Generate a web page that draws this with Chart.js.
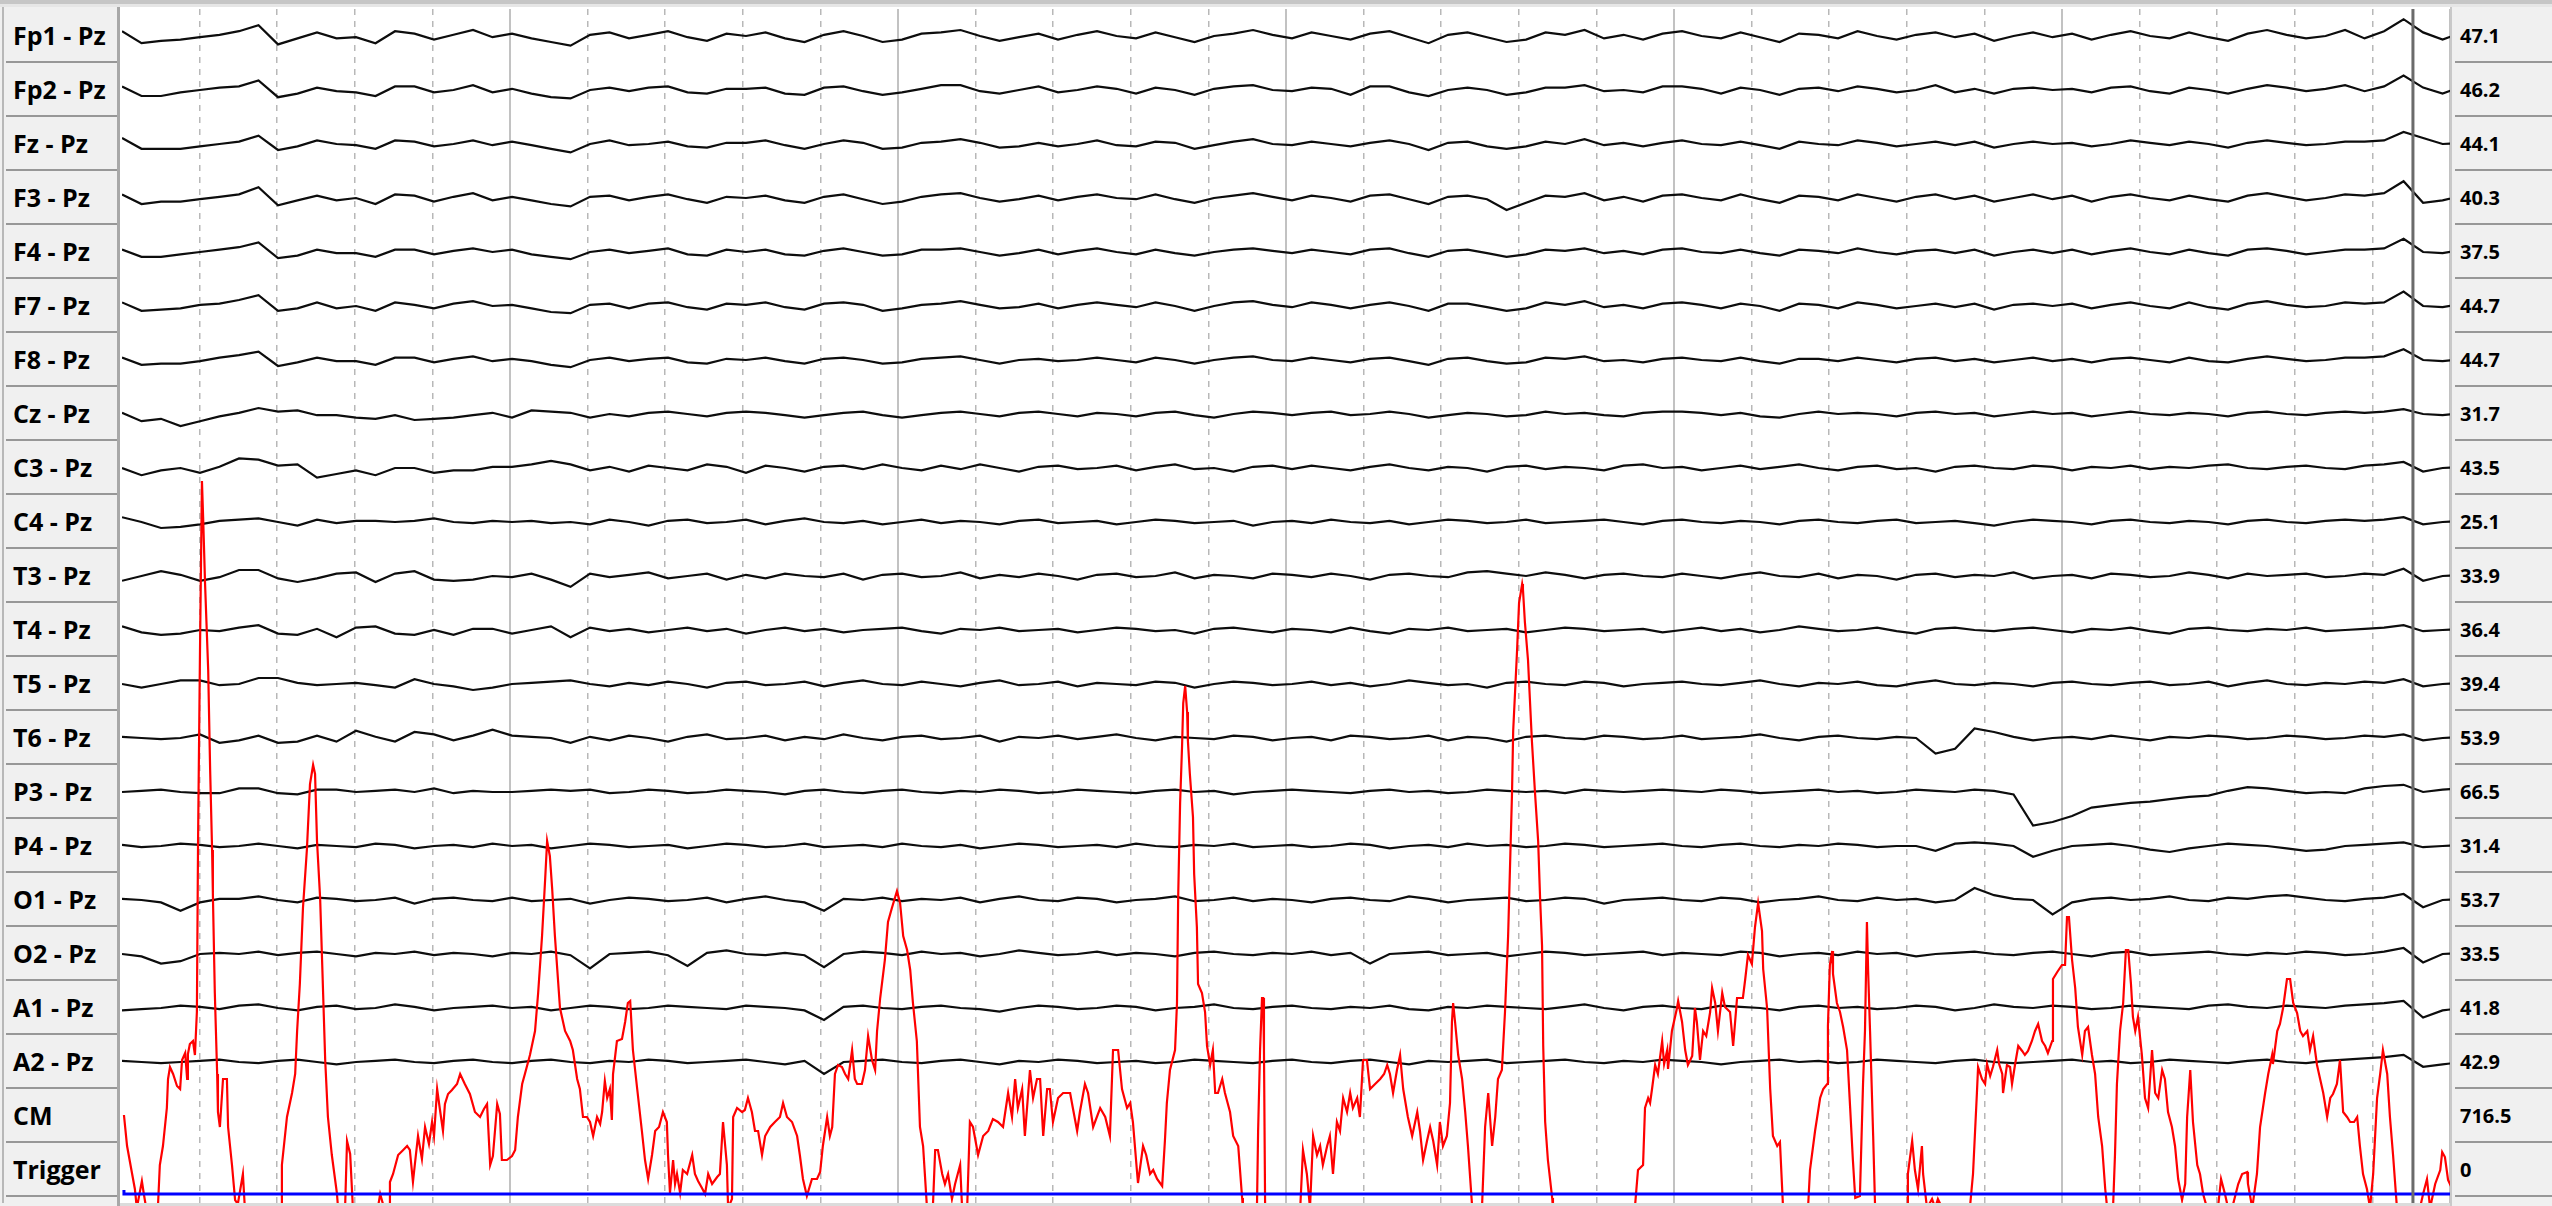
<!DOCTYPE html>
<html>
<head>
<meta charset="utf-8">
<title>EEG review</title>
<script src="https://cdn.jsdelivr.net/npm/chart.js@4.4.0/dist/chart.umd.min.js"></script>
<style>
  html, body { margin: 0; padding: 0; width: 2552px; height: 1206px; overflow: hidden; background: #f0f0f0; font-family: "Open Sans", "Noto Sans", sans-serif; }
  #topbar { position: absolute; left: 0; top: 0; width: 2552px; height: 4px; background: #c6c6c6; }
  #topline { position: absolute; left: 0; top: 4px; width: 2552px; height: 3px; background: #e6e6e6; }
  #leftedge { position: absolute; left: 2px; top: 7px; width: 2px; height: 1196px; background: #b8b8b8; }
  #sepL { position: absolute; left: 117px; top: 7px; width: 3px; height: 1199px; background: #a8a8a8; }
  #plotbg { position: absolute; left: 120px; top: 7px; width: 2330px; height: 1196px; background: #fff; }
  #sepR { position: absolute; left: 2450px; top: 7px; width: 2px; height: 1199px; background: #c9c9c9; }
  #bottom { position: absolute; left: 120px; top: 1203px; width: 2330px; height: 3px; background: #dcdcdc; }
  #wrap { position: absolute; left: 122px; top: 9px; width: 2328px; height: 1194px; }
  .lab, .val { position: absolute; height: 52px; border-bottom: 2px solid #979797; background: #f0f0f0;
               font-weight: 700; color: #000; display: flex; align-items: center; white-space: nowrap; box-sizing: content-box; }
  .lab { left: 6px; width: 104px; font-size: 25px; padding-left: 7px; }
  .val { left: 2455px; width: 92px; font-size: 20px; padding-left: 5px; }
</style>
</head>
<body>
<div id="topbar"></div><div id="topline"></div>
<div id="leftedge"></div>
<div id="plotbg"></div>
<div id="sepL"></div>
<div id="sepR"></div>
<div id="bottom"></div>
<div id="wrap"><canvas id="eeg"></canvas></div>
<script>
// channel names (left column) and per-channel scale readout (right column)
const channelNames = ["Fp1 - Pz", "Fp2 - Pz", "Fz - Pz", "F3 - Pz", "F4 - Pz", "F7 - Pz", "F8 - Pz",
  "Cz - Pz", "C3 - Pz", "C4 - Pz", "T3 - Pz", "T4 - Pz", "T5 - Pz", "T6 - Pz", "P3 - Pz",
  "P4 - Pz", "O1 - Pz", "O2 - Pz", "A1 - Pz", "A2 - Pz", "CM", "Trigger"];
const scaleLabels = ["47.1", "46.2", "44.1", "40.3", "37.5", "44.7", "44.7", "31.7", "43.5", "25.1",
  "33.9", "36.4", "39.4", "53.9", "66.5", "31.4", "53.7", "33.5", "41.8", "42.9", "716.5", "0"];

// EEG samples, one every 50 ms (deflection, positive = up)
const fp1 = [4,-6,-4,-3,-1,1,4,9,-7,-2,3,-2,-1,-6,4,2,-3,1,5,-1,
  2,-2,-5,-8,1,3,-2,1,4,-1,-4,2,0,3,-2,-5,1,4,0,-5,
  -3,2,3,5,0,-4,-1,2,-3,1,4,0,-2,3,-1,-5,0,2,5,1,
  -2,3,0,-3,2,4,-1,-6,1,3,-1,-5,-3,3,1,5,-2,1,-3,2,
  4,0,-2,3,-1,-5,2,1,-2,4,0,-3,1,3,-1,2,-4,0,3,-1,
  2,-3,1,4,0,-2,3,-1,-4,2,5,1,-2,0,5,-2,4,14,3,-3, 3];
const fp2 = [3,-5,-5,-2,0,2,3,8,-6,-3,2,-1,-2,-5,3,3,-2,0,4,-2,
  1,-3,-6,-7,0,2,-1,2,3,-2,-3,1,1,2,-3,-4,2,3,-1,-4,
  -2,1,4,4,-1,-3,0,3,-2,0,3,1,-3,2,0,-4,1,3,4,0,
  -1,2,1,-4,3,3,-2,-5,0,2,0,-4,-2,2,2,4,-1,0,-2,3,
  3,1,-3,2,0,-4,1,2,-1,3,1,-2,0,4,-2,1,-3,1,2,0,
  1,-2,2,3,-1,-3,2,0,-3,1,4,2,-1,1,4,-1,3,12,2,-3, 3];
const fz = [5,-4,-4,-4,-2,0,2,7,-5,-2,3,0,-1,-4,3,2,-2,0,3,-1,
  2,-1,-4,-7,0,3,-1,0,2,-2,-3,1,1,3,-1,-4,0,3,1,-4,
  -3,1,2,4,1,-3,-2,1,-2,0,3,-1,-2,2,1,-4,-1,2,4,0,
  -1,2,0,-2,1,3,0,-5,1,2,-2,-4,-2,2,0,4,-1,1,-2,1,
  3,0,-1,2,-1,-4,2,0,-1,3,1,-2,0,2,-1,2,-3,0,2,0,
  1,-2,0,3,1,-1,2,0,-3,1,3,1,-1,0,2,2,3,10,5,0, 1];
const f3 = [3,-5,-3,-3,-1,1,3,9,-6,-2,2,-2,0,-5,3,2,-3,1,4,-2,
  1,-2,-5,-7,1,2,-2,1,3,-1,-4,1,0,2,-2,-4,1,3,-1,-5,
  -3,1,3,4,0,-3,-1,2,-2,1,3,0,-1,3,-1,-4,0,2,4,1,
  -2,2,0,-3,2,3,-1,-5,1,2,-1,-10,-4,2,1,4,-2,1,-3,2,
  3,0,-2,3,-1,-4,2,1,-2,3,0,-3,1,3,-1,2,-3,0,3,-1,
  2,-3,1,3,0,-2,2,-1,-3,2,4,1,-2,0,3,2,4,14,-4,-2, 2];
const f4 = [2,-4,-4,-2,0,2,4,8,-5,-3,2,-1,-1,-4,2,2,-2,1,3,0,
  2,-2,-4,-6,0,2,-1,1,3,-2,-3,2,0,2,-2,-3,1,3,0,-3,
  -2,2,2,3,0,-3,-1,2,-2,1,3,0,-2,2,-1,-3,0,2,3,1,
  -1,2,0,-2,2,3,-1,-4,1,2,-1,-4,-2,2,1,3,-1,1,-2,2,
  3,0,-1,2,-1,-3,2,1,-1,3,0,-2,1,2,-1,2,-3,0,2,-1,
  2,-2,1,3,0,-2,2,-1,-3,2,3,1,-2,0,2,2,3,11,0,-1, 2];
const f7 = [3,-4,-3,-2,1,2,5,9,-4,-2,3,-2,0,-4,3,1,-2,2,4,0,
  1,-2,-5,-6,1,2,-2,2,3,-1,-3,2,1,3,-1,-3,2,3,1,-4,
  -2,1,2,4,1,-2,-1,2,-2,1,3,1,-1,3,0,-4,0,3,4,1,
  -1,3,1,-2,1,3,0,-4,2,2,-1,-4,-2,3,1,4,-1,1,-2,2,
  3,1,-2,2,0,-4,2,1,-2,3,1,-2,0,2,-1,2,-3,1,2,0,
  2,-2,1,3,0,-2,3,-1,-3,2,4,1,-1,0,3,2,3,12,0,-1, 2];
const f8 = [2,-4,-3,-3,-1,2,4,7,-5,-2,2,-1,-1,-4,2,2,-2,1,3,-1,
  1,-1,-4,-6,0,2,-1,1,2,-2,-3,1,0,2,-1,-3,1,2,0,-3,
  -2,1,2,3,0,-3,0,1,-1,0,2,0,-2,2,0,-3,0,2,3,0,
  -1,2,0,-2,1,2,-1,-4,1,2,-1,-3,-2,2,1,3,-1,0,-2,1,
  2,0,-1,2,-1,-3,1,1,-1,2,0,-2,1,2,-1,1,-2,0,2,-1,
  1,-2,1,2,0,-2,2,-1,-2,1,3,1,-1,0,2,2,3,9,0,-1, 1];
const cz = [1,-6,-4,-10,-6,-2,1,5,2,3,-1,-1,-3,-4,-1,-5,-4,-3,-1,1,
  -3,3,2,1,-3,0,-2,1,2,0,-2,1,2,1,-1,-3,-1,1,2,-1,
  -3,-1,1,2,0,-2,1,2,0,-2,1,0,-2,1,2,-1,-3,0,2,1,
  -1,1,2,-1,0,2,0,-3,-1,1,0,-2,-1,2,0,1,-1,-2,1,2,
  2,1,-1,1,-2,-3,0,2,0,1,0,-2,1,2,0,1,-2,0,2,0,
  1,-2,0,2,0,-1,1,0,-2,1,2,0,-1,1,2,1,2,4,0,-1, 1];
const c3 = [0,-6,-2,0,-4,1,8,7,2,3,-8,-5,-2,-6,0,0,-4,-2,-2,1,
  1,3,6,3,-2,1,-3,2,0,-2,3,1,-4,2,0,-3,1,2,-1,3,
  0,-2,2,-1,3,0,-3,1,2,-1,0,2,-2,1,3,-1,0,-3,1,2,
  -1,2,0,-2,1,3,0,-2,1,0,-3,1,2,-1,1,0,-2,2,3,0,
  1,-2,0,2,-1,1,3,0,-2,1,2,-1,0,-3,1,2,0,-1,2,1,
  -2,1,0,2,-1,1,0,2,3,0,-1,1,2,0,-1,2,3,5,-3,0, 1];
const c4 = [4,0,-5,-4,-2,1,2,3,0,-3,2,-1,1,1,0,1,3,0,-1,1,
  0,1,-1,0,-2,2,0,-3,1,2,-1,0,2,-2,1,3,0,-1,1,-2,
  0,2,-1,1,0,-2,1,2,-1,0,1,-2,0,2,1,-1,0,1,-3,0,
  1,-1,2,0,-1,1,-2,0,2,1,-1,0,2,-1,0,1,2,0,-2,1,
  2,0,-1,1,0,-2,1,2,0,-1,1,2,-1,0,1,-1,-3,0,2,1,
  0,-2,1,2,0,-1,1,0,-2,1,2,0,-1,1,2,1,2,4,-2,0, 1];
const t3 = [-4,0,4,1,-4,-1,5,5,-2,-5,-2,2,3,-5,2,4,-3,-4,-3,0,
  -1,2,-3,-9,2,-1,1,3,-2,0,2,-3,1,-2,2,0,-1,2,-3,1,
  2,-1,0,3,-2,1,-1,2,0,-3,1,2,-1,0,3,-2,1,0,-2,2,
  1,-1,2,0,-3,1,2,0,-1,3,4,2,0,3,1,-2,1,2,0,-1,
  2,0,-2,1,3,0,-1,2,-2,1,0,-3,1,2,-1,1,0,3,-2,0,
  1,-2,2,1,-1,0,3,1,-2,2,0,1,2,-1,0,2,1,6,-4,0, 1];
const t4 = [3,-2,-4,-3,0,-1,2,4,-3,-4,1,-6,2,3,-3,-4,0,-4,1,1,
  -3,0,3,-6,2,-1,1,-2,0,2,-1,1,-3,0,2,-1,1,-2,0,1,
  2,-1,-3,1,0,2,-1,0,1,-2,0,2,1,-1,0,-3,1,2,0,-2,
  1,0,-2,2,-1,-3,1,0,2,-1,0,1,-2,0,2,1,-1,0,1,-2,
  0,2,-1,1,-2,0,3,1,-1,0,2,-1,-3,1,2,0,-1,1,2,0,
  -2,1,0,2,-1,-3,1,2,0,-1,1,0,2,-1,0,1,2,4,-1,0, 1];
const t5 = [0,-3,0,3,3,-1,0,5,5,1,-1,0,1,-1,-3,4,0,-2,-5,-3,
  0,1,2,3,0,-2,1,-1,2,0,-3,1,2,-1,0,2,-2,1,3,0,
  -1,2,0,-2,1,3,-1,0,2,-2,1,0,-1,2,1,-3,0,2,1,-1,
  0,2,-1,1,-2,0,3,1,-1,0,-3,1,2,0,-1,2,1,-2,0,1,
  2,0,-1,1,3,0,-2,1,0,2,-1,-2,1,3,0,-1,1,0,-2,1,
  2,0,-1,1,2,-1,0,2,-2,1,3,0,-1,1,0,2,1,4,-2,0, 1];
const t6 = [1,0,-1,0,3,-4,-2,2,-4,-3,2,-3,6,1,-3,5,3,-2,2,7,
  2,1,0,-4,1,-2,2,0,-3,1,3,-1,0,2,-2,1,-1,3,0,-2,
  1,2,-1,0,2,-3,1,0,2,-1,1,3,0,-2,1,0,-1,2,1,-2,
  0,1,-2,2,1,-1,0,2,-2,1,0,-3,1,2,0,-1,2,1,-1,0,
  2,-1,0,1,3,0,-2,1,2,0,-1,1,0,-13,-9,8,5,1,-2,0,
  1,-1,2,0,-2,1,0,2,1,-1,0,2,1,-1,0,2,1,3,-2,0, 1];
const p3 = [0,1,2,0,-1,-1,3,3,-1,-2,2,2,0,1,2,0,3,-1,1,0,
  0,1,2,1,2,-1,0,2,1,-1,0,2,1,0,-2,1,2,0,-1,1,
  2,0,-1,1,0,2,1,-1,0,2,1,0,-1,1,2,0,1,-2,0,1,
  2,1,0,-1,1,2,0,1,-1,0,2,1,0,1,-1,2,1,0,1,2,
  1,0,2,1,-1,0,1,2,0,1,-1,0,2,1,0,2,1,-2,-28,-25,
  -20,-13,-11,-9,-8,-6,-4,-3,1,4,3,1,-1,0,-1,3,5,6,0,2, 3];
const p4 = [1,-1,0,2,1,-1,0,2,0,-2,1,0,-1,2,1,-2,0,1,-1,2,
  0,1,-2,0,2,1,-1,0,1,-2,0,2,1,-1,0,2,-1,0,1,-1,
  2,0,-1,1,-2,0,2,1,-1,0,1,-1,2,0,-1,1,0,2,-1,0,
  1,-1,0,2,1,-2,0,1,-1,2,0,1,-1,0,2,1,-1,0,1,2,
  0,-1,1,2,0,-1,1,0,2,1,-1,0,0,-4,2,3,2,0,-9,-4,
  0,1,2,0,-3,-5,-2,0,2,1,0,-2,-4,-3,0,1,2,3,-1,0, 1];
const o1 = [1,0,-2,-9,-2,1,1,3,0,-2,2,1,-1,0,2,-3,1,2,0,-1,
  2,-1,0,1,-3,0,2,1,-1,0,2,-2,1,3,0,-2,-9,1,0,2,
  -1,1,0,2,-2,1,3,0,-1,2,1,-2,0,1,3,-1,0,2,-1,1,
  0,-2,1,2,0,-1,3,1,-2,0,1,2,-1,0,2,1,-3,0,1,2,
  0,-1,2,1,-2,0,1,3,0,-1,2,0,1,-2,0,10,4,1,0,-12,
  -2,1,2,0,1,3,0,-1,2,1,3,4,2,0,-1,1,2,5,-6,0, 1];
const o2 = [0,-2,-8,-6,0,1,0,2,-1,1,2,0,-2,1,0,2,-1,1,0,-2,
  1,0,2,-1,-12,0,1,2,-1,-10,1,3,0,-1,1,-1,-11,0,2,1,
  -1,2,0,1,-2,0,3,1,-1,0,2,-1,1,0,-2,1,2,0,-1,1,
  0,2,-1,1,-8,0,1,2,-1,0,1,-2,0,2,1,-1,0,1,2,-1,
  1,0,-1,2,1,-2,0,1,-1,2,0,1,-2,0,1,2,0,-1,1,2,
  0,-2,1,2,-1,0,1,2,0,-1,1,0,2,1,-1,0,2,5,-7,0, 1];
const a1 = [-2,-1,0,2,1,-1,2,3,0,-2,1,2,-1,0,3,1,-2,0,1,2,
  0,1,-2,0,2,1,-1,0,2,1,0,-1,2,1,0,-2,-10,1,2,0,
  -1,1,2,0,-1,-3,0,2,1,-1,0,2,1,-2,0,1,3,0,-1,1,
  2,0,-1,1,0,2,-1,-2,1,0,2,1,0,-1,1,3,0,-2,1,2,
  0,-1,2,1,0,-2,1,2,0,1,-1,0,2,1,-2,0,3,1,0,2,
  1,-1,0,2,1,0,-1,2,3,1,0,2,1,0,2,3,4,6,-8,-2, 0];
const a2 = [1,0,-1,0,1,2,0,-1,1,2,0,-2,0,1,2,0,-1,1,2,0,
  -1,1,2,0,-1,1,0,2,1,-1,0,1,2,0,-2,1,-10,0,1,2,
  0,-1,1,2,0,-2,1,0,2,1,-1,0,1,-1,0,2,1,0,-1,1,
  2,0,-1,1,2,0,-2,1,0,1,2,-1,0,1,2,0,-1,1,0,2,
  1,0,-2,0,1,2,0,1,-1,0,2,1,0,-1,1,2,0,-1,0,1,
  2,0,1,-1,0,2,1,0,-1,1,2,0,-1,1,2,3,4,6,-4,-2, 0];
const eegChannels = [fp1, fp2, fz, f3, f4, f7, f8, cz, c3, c4, t3, t4, t5, t6, p3, p4, o1, o2, a1, a2];

// CM trace: [time ms, value]
const cmTrace = [[5,79],[13,48],[26,20],[33,5],[38,-14],[51,13],[56,0],[62,-14],[92,-14],[97,29],[105,48],[115,86],[118,115],[123,127],[131,120],[141,108],[149,105],[154,134],[162,141],[167,115],[169,140],[174,150],[182,153],[187,139],[192,182],[195,353],[200,544],[205,713],[208,677],[213,610],[221,524],[226,424],[231,344],[233,300],[238,201],[244,120],[246,82],[251,67],[259,115],[269,115],[272,67],[282,29],[290,-6],[297,-10],[310,20],[315,-14],[408,-14],[410,29],[423,77],[436,101],[444,120],[449,163],[456,210],[464,286],[474,344],[482,410],[490,429],[495,420],[500,353],[508,296],[513,234],[521,134],[528,77],[538,39],[551,1],[554,-14],[572,-14],[577,53],[585,40],[592,-14],[656,-14],[662,0],[672,-14],[685,-14],[687,12],[695,20],[708,39],[721,44],[731,48],[738,44],[746,12],[751,30],[759,58],[769,35],[777,67],[787,50],[795,72],[800,58],[808,105],[815,85],[823,63],[828,90],[836,100],[846,104],[859,110],[867,120],[879,110],[892,100],[905,82],[918,77],[928,85],[936,90],[944,29],[951,38],[962,90],[969,80],[974,34],[987,34],[1000,38],[1008,44],[1015,77],[1026,110],[1033,120],[1046,139],[1059,163],[1067,201],[1077,258],[1085,315],[1090,353],[1097,338],[1103,305],[1110,258],[1123,186],[1136,163],[1149,153],[1156,144],[1167,115],[1174,105],[1182,77],[1192,77],[1200,72],
  [1208,58],[1218,77],[1226,70],[1231,82],[1238,113],[1244,96],[1251,105],[1256,74],[1259,120],[1269,153],[1282,155],[1290,172],[1297,191],[1303,193],[1310,144],[1321,105],[1333,63],[1341,34],[1349,15],[1359,39],[1367,63],[1377,67],[1387,82],[1397,72],[1400,39],[1405,1],[1413,34],[1418,10],[1423,20],[1431,1],[1438,24],[1449,20],[1462,39],[1469,20],[1477,13],[1487,6],[1495,0],[1503,20],[1513,10],[1526,17],[1533,20],[1541,72],[1551,29],[1554,-14],[1564,-5],[1567,77],[1577,86],[1590,82],[1597,84],[1605,96],[1615,82],[1623,63],[1631,63],[1641,39],[1649,58],[1662,67],[1674,72],[1687,77],[1695,91],[1705,77],[1718,72],[1731,58],[1738,39],[1746,15],[1756,-2],[1769,15],[1782,15],[1790,22],[1797,48],[1808,77],[1815,58],[1821,67],[1828,120],[1836,129],[1846,127],[1854,120],[1862,115],[1872,144],[1879,115],[1885,110],[1897,110],[1905,124],[1913,158],[1923,134],[1931,124],[1936,163],[1944,196],[1956,234],[1964,272],[1974,286],[1987,303],[1995,291],[2003,258],[2013,244],[2021,224],[2028,191],[2038,153],[2046,67],[2054,48],[2064,-14],[2079,-14],[2085,44],[2092,44],[2103,20],[2110,10],[2118,20],[2128,-5],[2136,10],[2149,29],[2154,-14],[2167,-14],[2174,72],[2182,67],[2195,39],[2208,58],[2221,63],[2233,75],[2246,72],[2259,67],[2272,101],[2282,77],[2290,115],[2297,86],[2308,105],[2315,58],[2328,124],[2336,96],[2346,115],[2354,115],[2362,58],[2372,105],
  [2379,105],[2387,72],[2400,96],[2413,101],[2431,101],[2438,86],[2449,63],[2456,82],[2469,110],[2477,101],[2490,67],[2508,86],[2521,77],[2533,58],[2541,144],[2554,144],[2564,105],[2577,86],[2585,91],[2592,72],[2603,20],[2605,11],[2618,48],[2626,39],[2636,20],[2644,24],[2654,15],[2667,8],[2674,53],[2679,91],[2687,124],[2700,144],[2705,191],[2708,296],[2713,391],[2718,448],[2721,491],[2726,508],[2731,482],[2733,453],[2738,420],[2746,377],[2749,320],[2756,267],[2759,210],[2769,201],[2777,182],[2782,148],[2790,129],[2797,144],[2803,101],[2810,101],[2821,115],[2828,101],[2841,82],[2849,58],[2862,48],[2872,-4],[2874,-14],[2910,-14],[2913,63],[2918,144],[2923,196],[2926,196],[2928,144],[2931,-14],[3021,-14],[3028,44],[3038,20],[3046,-14],[3054,58],[3064,39],[3072,48],[3079,29],[3090,48],[3097,58],[3105,20],[3115,72],[3123,63],[3131,96],[3141,82],[3149,101],[3156,86],[3167,96],[3174,77],[3182,134],[3192,134],[3200,105],[3213,110],[3226,115],[3236,120],[3244,129],[3251,120],[3259,101],[3269,124],[3277,139],[3285,105],[3297,77],[3308,58],[3321,82],[3328,63],[3336,34],[3346,53],[3354,67],[3362,53],[3372,29],[3379,72],[3387,48],[3397,58],[3405,91],[3410,172],[3413,191],[3418,172],[3426,139],[3436,115],[3444,82],[3451,48],[3462,-14],[3487,-14],[3495,67],[3503,101],[3513,48],[3521,77],[3528,115],[3538,124],[3546,182],[3554,258],[3559,329],[3564,401],[3567,463],[3577,544],[3582,591],
  [3590,610],[3592,605],[3597,572],[3605,534],[3615,453],[3623,401],[3631,353],[3636,296],[3641,248],[3644,148],[3649,72],[3656,34],[3667,-4],[3669,-14],[3879,-14],[3887,24],[3900,29],[3905,86],[3913,96],[3918,91],[3923,105],[3931,129],[3938,120],[3949,153],[3954,130],[3962,144],[3964,125],[3974,163],[3987,186],[3990,193],[4000,172],[4008,144],[4015,129],[4026,138],[4033,186],[4038,172],[4046,134],[4054,163],[4062,158],[4072,182],[4077,206],[4085,191],[4092,163],[4103,201],[4110,187],[4123,182],[4131,148],[4141,196],[4144,196],[4156,196],[4162,215],[4169,239],[4179,230],[4187,267],[4195,291],[4205,263],[4208,225],[4218,186],[4226,105],[4233,58],[4244,48],[4251,52],[4259,-14],[4323,-14],[4328,24],[4341,63],[4354,96],[4362,105],[4372,110],[4374,168],[4379,229],[4385,243],[4387,220],[4397,191],[4405,182],[4413,167],[4423,144],[4431,86],[4438,34],[4444,-4],[4456,-2],[4464,110],[4469,163],[4474,272],[4477,224],[4482,163],[4490,58],[4495,-14],[4577,-14],[4579,20],[4590,53],[4597,24],[4605,5],[4615,48],[4618,20],[4628,-14],[4641,-5],[4649,-14],[4656,-5],[4667,-14],[4738,-14],[4746,20],[4756,101],[4759,127],[4769,115],[4777,110],
  [4782,130],[4790,118],[4797,127],[4808,144],[4813,130],[4821,120],[4823,101],[4833,129],[4841,127],[4846,110],[4854,130],[4862,148],[4872,143],[4879,139],[4887,143],[4897,153],[4905,163],[4913,170],[4923,153],[4931,148],[4938,141],[4949,153],[4951,215],[4962,222],[4974,229],[4982,229],[4987,277],[4992,277],[5000,234],[5008,206],[5015,167],[5026,139],[5033,163],[5041,167],[5051,139],[5059,120],[5067,77],[5077,48],[5085,5],[5090,-14],[5105,-14],[5110,39],[5115,110],[5123,163],[5131,191],[5138,244],[5144,244],[5151,210],[5156,177],[5162,163],[5169,177],[5179,139],[5187,96],[5195,86],[5205,144],[5213,101],[5221,96],[5231,124],[5238,115],[5246,82],[5256,67],[5264,48],[5272,15],[5282,-6],[5290,10],[5295,77],[5303,124],[5310,72],[5321,29],[5328,20],[5336,0],[5346,-14],[5374,-14],[5382,15],[5392,0],[5400,-14],[5413,-10],[5426,10],[5436,20],[5449,22],[5451,10],[5462,-14],[5474,20],[5482,67],[5495,101],[5503,120],[5513,139],[5515,130],[5526,163],[5533,170],[5541,186],[5551,215],[5559,215],[5567,191],[5577,181],[5585,163],[5592,158],[5603,163],[5610,144],[5618,158],[5628,129],[5636,115],[5644,101],[5654,77],[5662,96],[5669,100],[5679,110],[5687,134],[5695,82],[5705,77],[5713,72],[5723,72],[5731,77],[5738,48],[5746,20],[5756,5],[5764,-14],[5772,20],[5782,96],[5790,120],[5797,144],[5808,120],[5815,77],[5823,39],[5833,-14],[5892,-14],[5900,0],[5910,15],[5918,-14],[5931,10],[5944,24],[5949,42],[5956,37],[5964,14],[5975,5]];

// trigger channel: [time ms, value]
const triggerTrace = [[5, 4], [5, 0], [5975, 0]];

const cursorMs = 5874;      // review cursor position
const SAMPLE_MS = 50;
const WINDOW_MS = 5969;
const SENSITIVITY = 1.2;    // px per unit for the EEG rows

// montage layout (canvas px)
const ROW_H = 54;
const ROW_TOP = 9;
const PLOT_H = 1194;
const rowCentre = k => ROW_H / 2 + ROW_H * k;
const CM_BASE = 1185;
const TRIG_BASE = 1185;

// side panels
channelNames.forEach((name, k) => {
  const d = document.createElement('div');
  d.className = 'lab';
  d.style.top = (ROW_TOP + ROW_H * k) + 'px';
  d.textContent = name;
  document.body.appendChild(d);
  const v = document.createElement('div');
  v.className = 'val';
  v.style.top = (ROW_TOP + ROW_H * k) + 'px';
  v.textContent = scaleLabels[k];
  document.body.appendChild(v);
});

const datasets = [];
eegChannels.forEach((vals, k) => {
  datasets.push({
    label: channelNames[k],
    data: vals.map((v, i) => ({ x: i * SAMPLE_MS, y: rowCentre(k) - v * SENSITIVITY })),
    borderColor: '#0d0d0d',
    borderWidth: 2.2,
    order: 3
  });
});
datasets.push({
  label: 'CM',
  data: cmTrace.map(([t, v]) => ({ x: t, y: CM_BASE - v })),
  borderColor: '#ff0000',
  borderWidth: 2.2,
  order: 2
});
datasets.push({
  label: 'Trigger',
  data: triggerTrace.map(([t, v]) => ({ x: t, y: TRIG_BASE - v })),
  borderColor: '#0000ff',
  borderWidth: 3,
  order: 1
});
datasets.push({
  label: 'cursor',
  data: [{ x: cursorMs, y: 0 }, { x: cursorMs, y: PLOT_H }],
  borderColor: '#6b6b6b',
  borderWidth: 3,
  order: 0
});

new Chart(document.getElementById('eeg'), {
  type: 'line',
  data: { datasets },
  options: {
    responsive: true,
    maintainAspectRatio: false,
    animation: false,
    events: [],
    layout: { padding: 0 },
    plugins: { legend: { display: false }, tooltip: { enabled: false } },
    elements: { point: { radius: 0 }, line: { tension: 0 } },
    scales: {
      x: {
        type: 'linear', min: 0, max: WINDOW_MS,
        ticks: { display: false, stepSize: 200, includeBounds: false },
        grid: {
          drawTicks: false, lineWidth: 1.5,
          color: c => (c.tick && c.tick.value % 1000 === 0) ? 'rgba(0,0,0,0)' : '#b8b8b8'
        },
        border: { display: false, dash: [6, 6] }
      },
      x2: {
        type: 'linear', position: 'bottom', min: 0, max: WINDOW_MS,
        ticks: { display: false, stepSize: 1000, includeBounds: false },
        grid: {
          drawTicks: false, lineWidth: 2,
          color: c => (c.tick && c.tick.value === 0) ? 'rgba(0,0,0,0)' : '#c2c2c2'
        },
        border: { display: false }
      },
      y: { type: 'linear', display: false, reverse: true, min: 0, max: PLOT_H }
    }
  }
});
</script>
</body>
</html>
